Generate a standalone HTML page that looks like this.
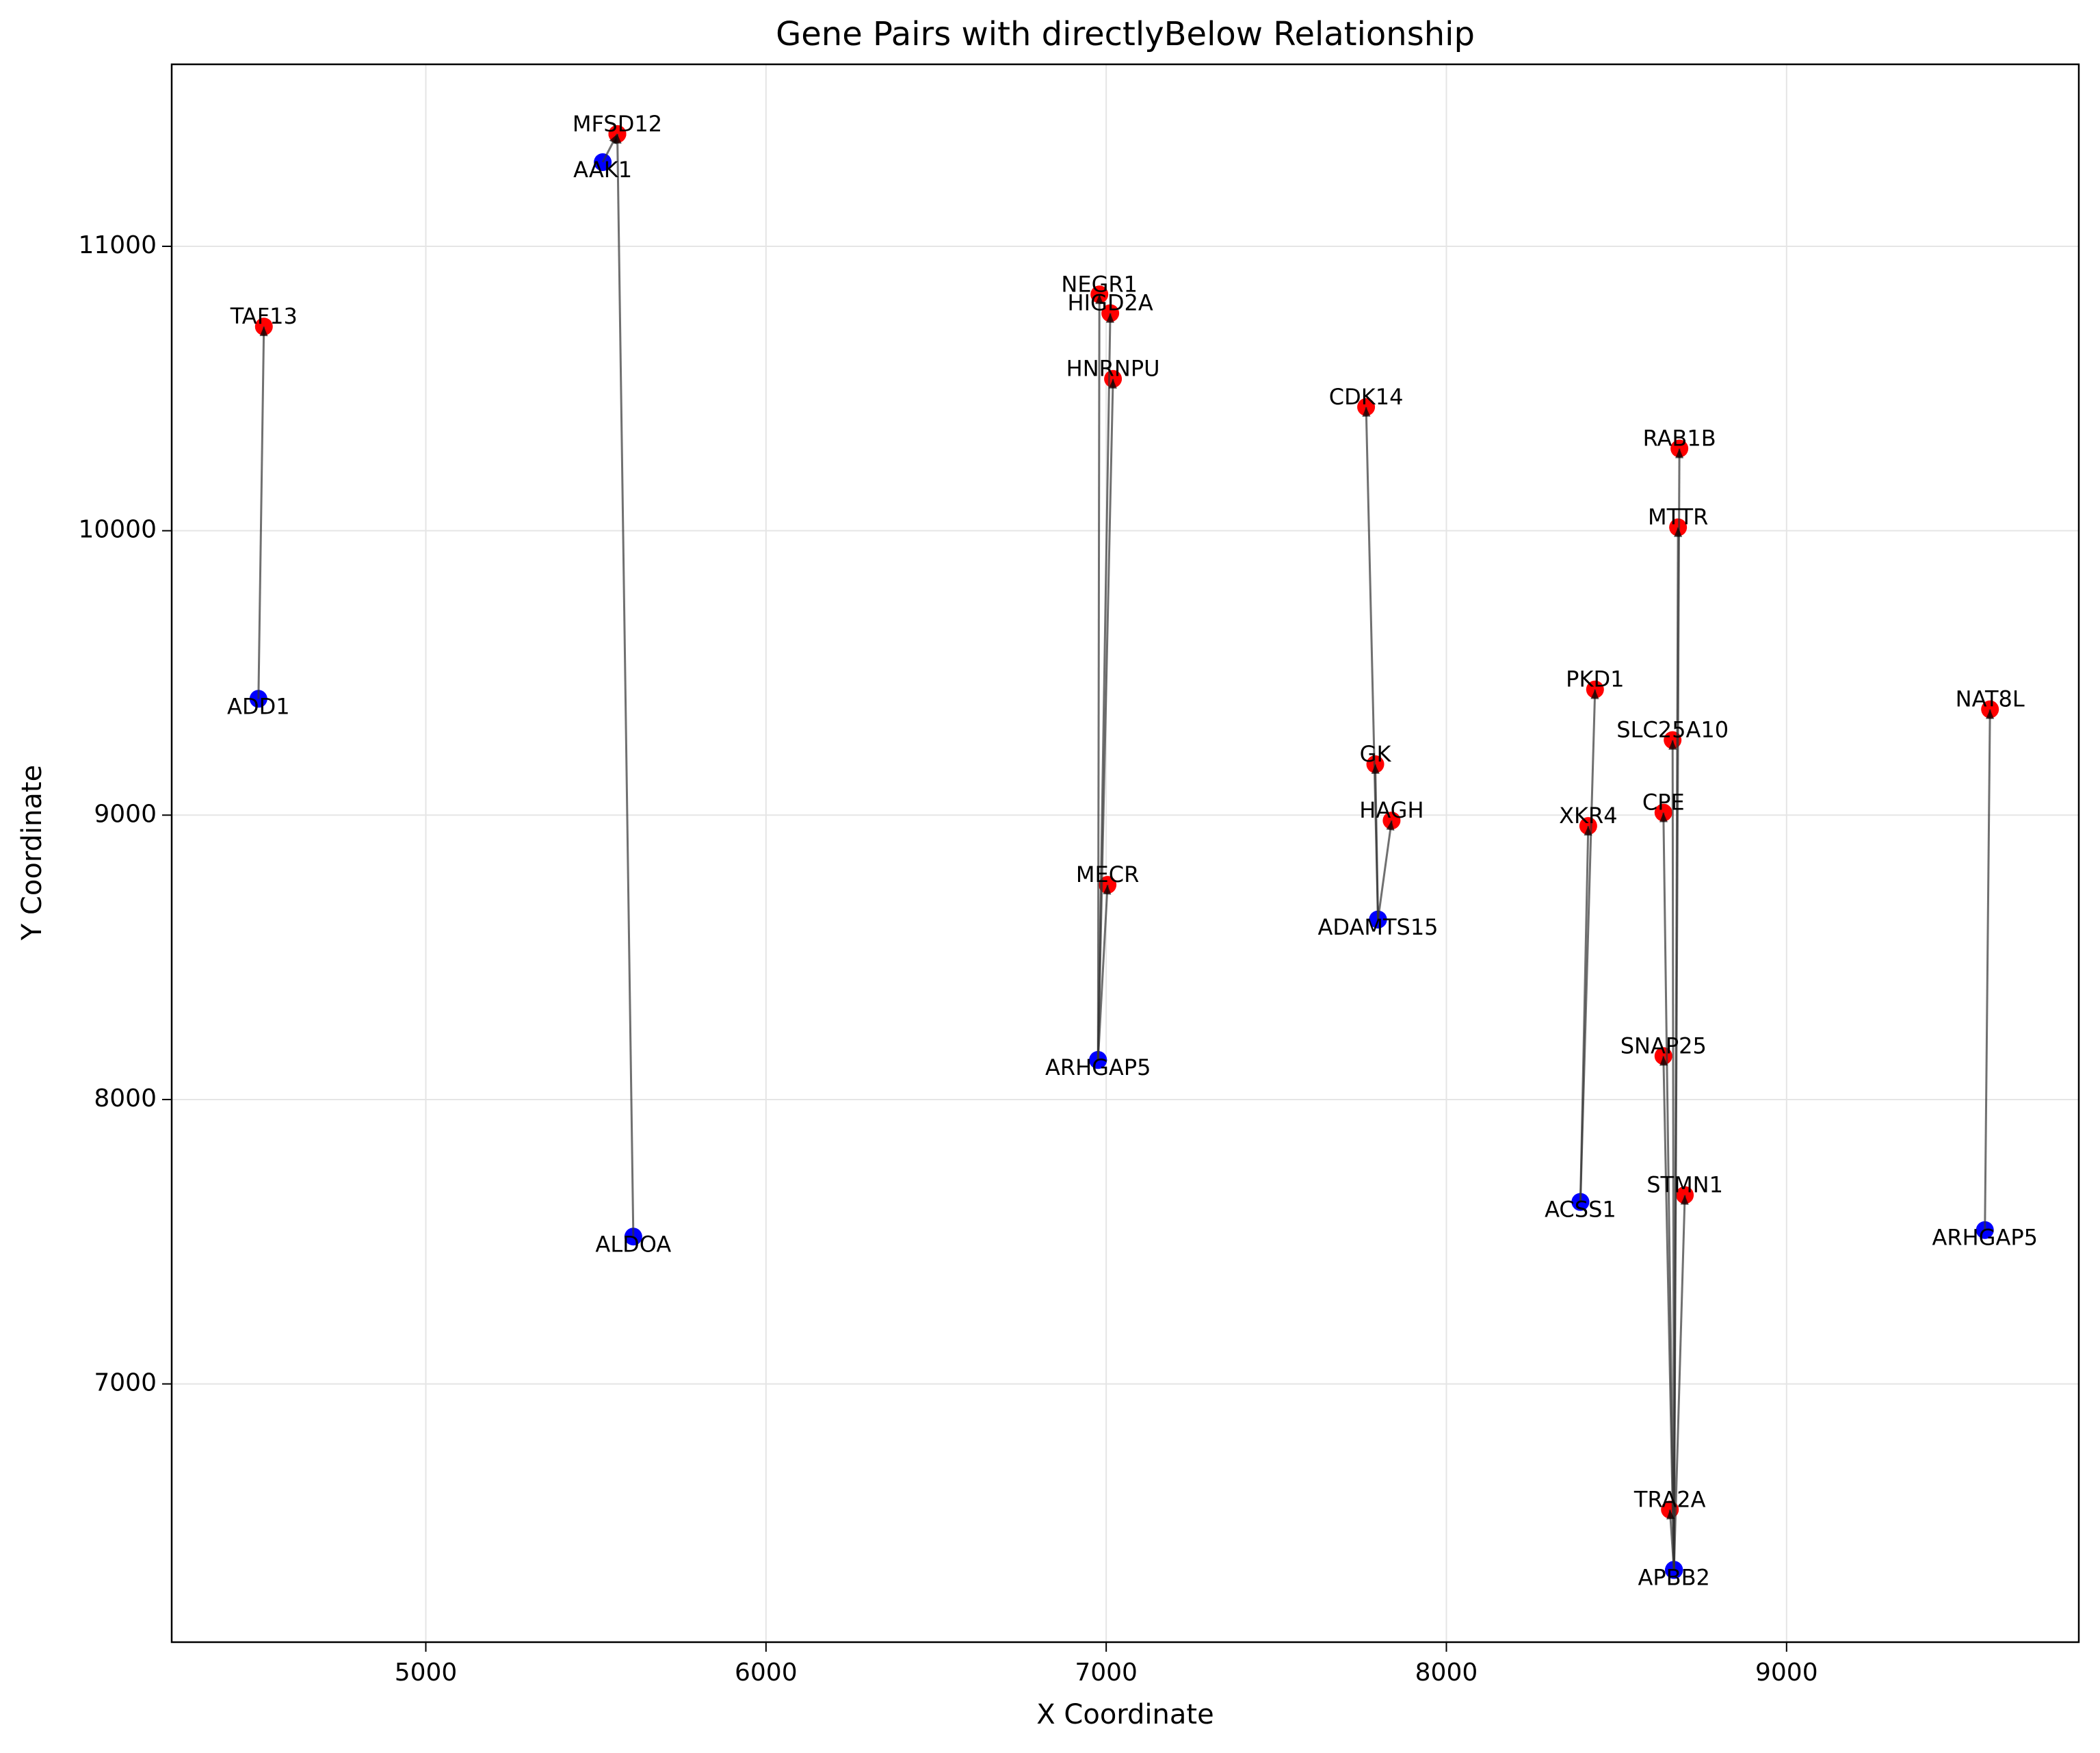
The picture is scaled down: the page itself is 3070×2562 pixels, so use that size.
<!DOCTYPE html>
<html><head><meta charset="utf-8">
<style>
html,body{margin:0;padding:0;background:#fff;}
svg{display:block;font-family:"DejaVu Sans","Liberation Sans",sans-serif;}
</style></head>
<body>
<svg id="chart" width="3070" height="2562" viewBox="0 0 3070 2562" xmlns="http://www.w3.org/2000/svg">
<rect x="0" y="0" width="3070" height="2562" fill="#fff"/>
<g id="grid"></g>
<g id="lines"></g>
<g id="points"></g>
<g id="labels"></g>
<rect x="251" y="94" width="2788" height="2306" fill="none" stroke="#000" stroke-width="2.5"/>
<g id="ticks"></g>
<text x="1645" y="53" font-size="48" text-anchor="middle" dominant-baseline="middle">Gene Pairs with directlyBelow Relationship</text>
<text x="1645" y="2508" font-size="40" text-anchor="middle" dominant-baseline="middle">X Coordinate</text>
<text x="49" y="1246" font-size="40" text-anchor="middle" dominant-baseline="middle" transform="rotate(-90 49 1246)">Y Coordinate</text>
</svg>
<script>
const fromNames = ["ADD1","AAK1","ALDOA","ARHGAP5","ARHGAP5","ARHGAP5","ARHGAP5","ADAMTS15","ADAMTS15","ADAMTS15","ACSS1","ACSS1","APBB2","APBB2","APBB2","APBB2","APBB2","APBB2","APBB2","ARHGAP5"];
const fromX = [4508,5520,5610,6976,6976,6976,6976,7799,7799,7799,8394,8394,8669,8669,8669,8669,8669,8669,8669,9583];
const fromY = [9409,11296,7518,8139,8139,8139,8139,8633,8633,8633,7640,7640,6346,6346,6346,6346,6346,6346,6346,7541];
const toNames = ["TAF13","MFSD12","MFSD12","NEGR1","HIGD2A","HNRNPU","MECR","CDK14","GK","HAGH","PKD1","XKR4","RAB1B","MTTR","SLC25A10","CPE","SNAP25","STMN1","TRA2A","NAT8L"];
const toX = [4524,5563,5563,6980,7012,7020,7004,7764,7791,7839,8437,8417,8685,8681,8665,8638,8638,8701,8657,9598];
const toY = [10718,11395,11395,10831,10765,10534,8755,10435,9179,8981,9442,8962,10289,10012,9264,9009,8153,7664,6558,9372];
const xTicks = [5000,6000,7000,8000,9000];
const yTicks = [7000,8000,9000,10000,11000];

const L=251,R=3039,T=94,B=2400;
const X0=4253,X1=9859,Y0=6092,Y1=11640;
const sx=v=>L+(v-X0)/(X1-X0)*(R-L);
const sy=v=>B-(v-Y0)/(Y1-Y0)*(B-T);
const NS="http://www.w3.org/2000/svg";
function mk(tag,attrs,parent,txt){const e=document.createElementNS(NS,tag);for(const k in attrs)e.setAttribute(k,attrs[k]);if(txt!==undefined)e.textContent=txt;document.getElementById(parent).appendChild(e);return e;}

xTicks.forEach(v=>{
  const g=mk('line',{x1:sx(v),x2:sx(v),y1:T,y2:B,stroke:'#e5e5e5','stroke-width':2},'grid');
  
  
  const t=mk('line',{x1:sx(v),x2:sx(v),y1:B,y2:B+14,stroke:'#000','stroke-width':2},'ticks');
  
  
  const l=mk('text',{x:sx(v),y:B+46,'font-size':36,'text-anchor':'middle','dominant-baseline':'middle'},'ticks',String(v));
  
  
});
yTicks.forEach(v=>{
  const g=mk('line',{x1:L,x2:R,y1:sy(v),y2:sy(v),stroke:'#e5e5e5','stroke-width':2},'grid');
  
  
  const t=mk('line',{x1:L-14,x2:L,y1:sy(v),y2:sy(v),stroke:'#000','stroke-width':2},'ticks');
  
  
  const l=mk('text',{x:L-22,y:sy(v),'font-size':36,'text-anchor':'end','dominant-baseline':'middle'},'ticks',String(v));
  
  
});

for(let i=0;i<fromX.length;i++){
  const fb=mk('circle',{cx:sx(fromX[i]),cy:sy(fromY[i]),r:13,fill:'#0000ff'},'points');
  
  
  const fr=mk('circle',{cx:sx(toX[i]),cy:sy(toY[i]),r:13,fill:'#ff0000'},'points');
  
  
}
for(let i=0;i<fromX.length;i++){
  const x1=sx(fromX[i]),y1=sy(fromY[i]),x2=sx(toX[i]),y2=sy(toY[i]);
  const ln=mk('line',{x1:x1,y1:y1,x2:x2,y2:y2,stroke:'#333','stroke-opacity':0.7,'stroke-width':3},'points');
  
  
  const a=Math.atan2(y2-y1,x2-x1),h=14,w=6;
  const bx=x2-h*Math.cos(a),by=y2-h*Math.sin(a);
  const pts=[[x2,y2],[bx+w*Math.sin(a),by-w*Math.cos(a)],[bx-w*Math.sin(a),by+w*Math.cos(a)]].map(p=>p.join(',')).join(' ');
  const ar=mk('polygon',{points:pts,fill:'#000','fill-opacity':0.7},'points');
  
  
}
const seen={};
for(let i=0;i<fromX.length;i++){
  const k=fromNames[i]+fromX[i];
  if(!seen[k]){seen[k]=1;
    const t=mk('text',{x:sx(fromX[i]),y:sy(fromY[i])+13,'font-size':32,'text-anchor':'middle','dominant-baseline':'middle'},'labels',fromNames[i]);
    
    
  }
  const k2=toNames[i];
  if(!seen[k2]){seen[k2]=1;
    const t=mk('text',{x:sx(toX[i]),y:sy(toY[i])-13,'font-size':32,'text-anchor':'middle','dominant-baseline':'middle'},'labels',toNames[i]);
    
    
  }
}
</script>
</body></html>
